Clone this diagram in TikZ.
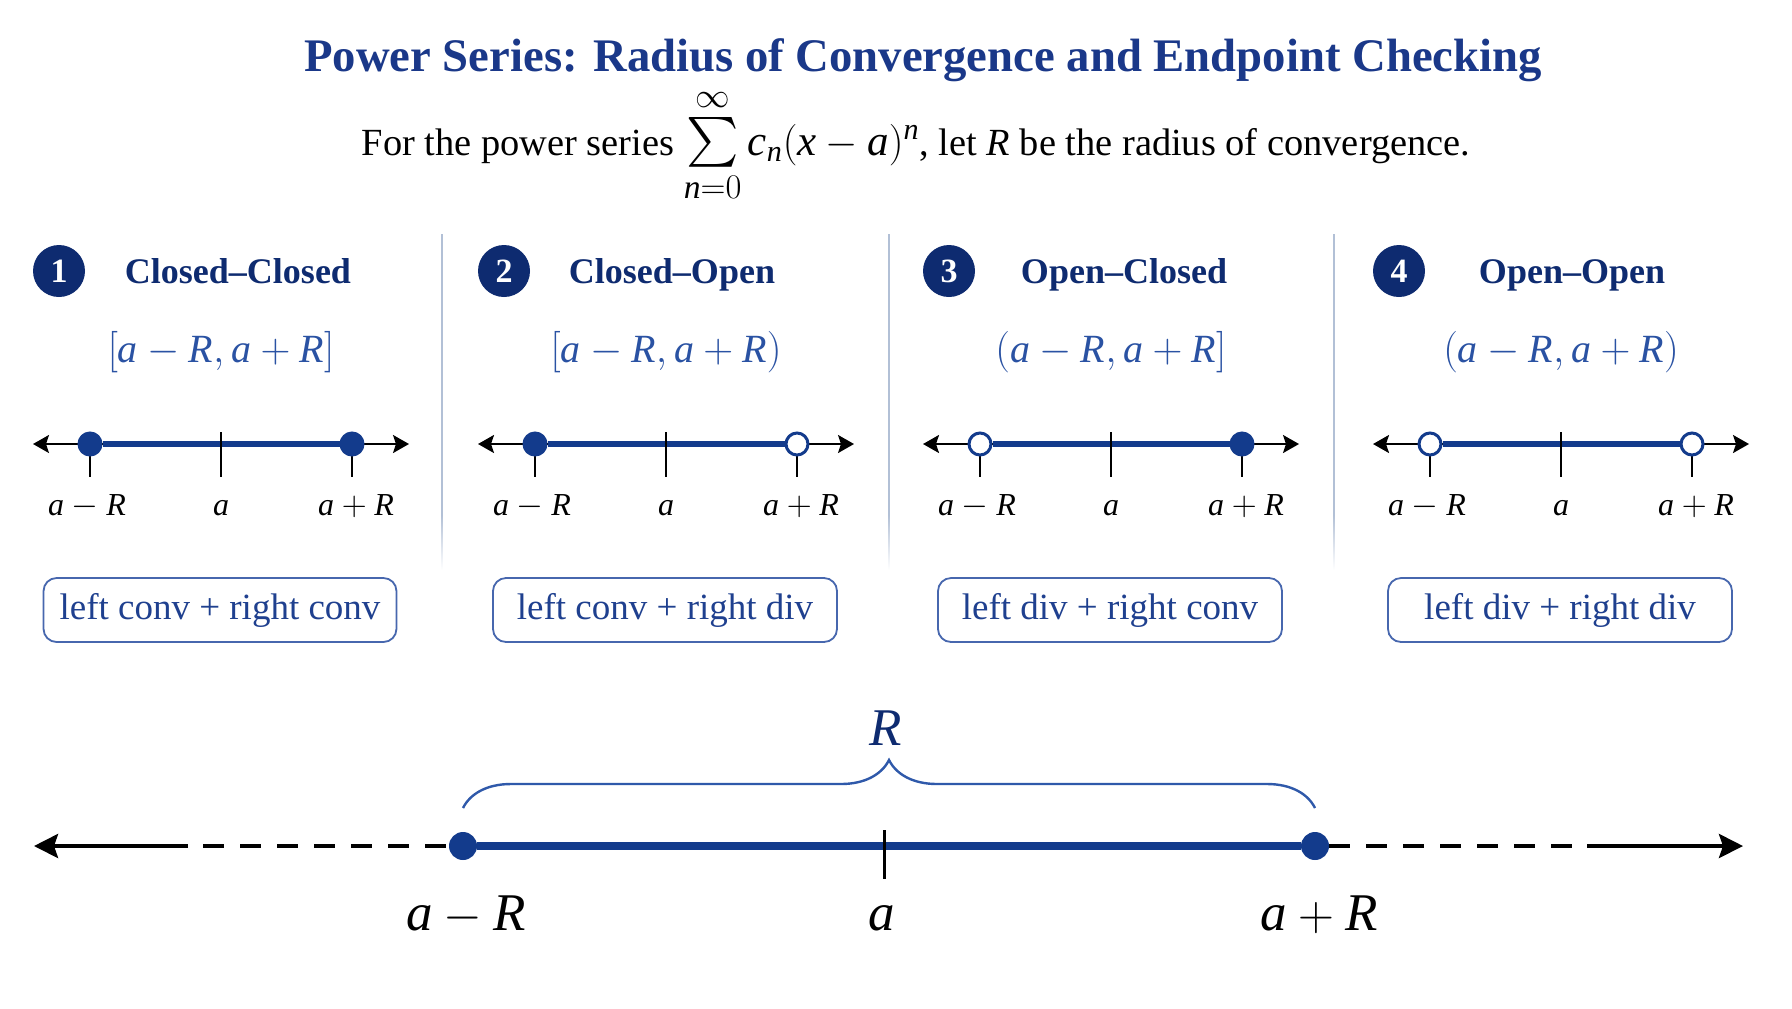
\documentclass[tikz,border=0pt]{standalone}
\usepackage{amsmath}
\usepackage{fontspec}
\setmainfont{Liberation Serif}
\usetikzlibrary{calc, arrows.meta, decorations.pathreplacing}

\definecolor{titleblue}{HTML}{1A3889}
\definecolor{navy}{HTML}{0E2B70}
\definecolor{lineblue}{HTML}{133B8C}
\definecolor{intblue}{HTML}{2A52A3}
\definecolor{boxblue}{HTML}{1F408F}
\definecolor{boxedge}{HTML}{4767AE}
\definecolor{braceblue}{HTML}{2F59AA}
\definecolor{divgray}{HTML}{B2C0D6}

\newcommand{\mv}[1]{\textit{#1}}

\begin{document}
\begin{tikzpicture}[x=0.5pt, y=-0.5pt,
  smalltip/.tip={Stealth[length=8pt, width=9pt, inset=1.5pt]},
  bigtip/.tip={Stealth[length=12pt, width=12pt, inset=2pt]},
  axis/.style={line width=1pt, smalltip-smalltip},
  seg/.style={line width=2.8pt, lineblue},
  tickmark/.style={line width=1pt},
  dotclosed/.style={circle, fill=lineblue, draw=lineblue, line width=1pt,
    minimum size=11.5pt, inner sep=0pt},
  dotopen/.style={circle, fill=white, draw=lineblue, line width=1.5pt,
    minimum size=11pt, inner sep=0pt},
  badge/.style={circle, fill=navy, text=white, minimum size=26pt, inner sep=0pt,
    font=\fontsize{17}{20}\selectfont\bfseries},
  heading/.style={text=navy, anchor=base, font=\fontsize{18}{21}\selectfont\bfseries},
  interval/.style={text=intblue, anchor=base, font=\fontsize{20}{24}\selectfont},
  ticklabel/.style={anchor=base, font=\fontsize{16}{19}\selectfont},
  verdict/.style={draw=boxedge, line width=0.9pt, rounded corners=6.5pt, text=boxblue,
    minimum width=172pt, minimum height=32pt, inner xsep=8pt,
    font=\fontsize{18.5}{22}\selectfont},
  bigaxis/.style={line width=2pt},
  dashes/.style={bigaxis, dash pattern=on 10.5pt off 8pt},
  bigseg/.style={line width=3.6pt, lineblue},
  bigdot/.style={circle, fill=lineblue, minimum size=14pt, inner sep=0pt},
  biglabel/.style={anchor=base, font=\fontsize{26.5}{31}\selectfont},
]
  \useasboundingbox[fill=white] (0,0) rectangle (1792,1008);

  % title and subtitle
  \node[anchor=base, inner sep=0pt, text=titleblue, font=\fontsize{23.35}{28}\selectfont\bfseries] (title)
    at (923,71) {Power Series: Radius of Convergence and Endpoint Checking};
  \node[anchor=base, inner sep=0pt, font=\fontsize{19.2}{23}\selectfont] (intro) at (916,155)
    {For the power series\ {\fontsize{24}{28}\selectfont$\sum\limits_{\mv{n}=0}^{\infty}$}\,%
     {\fontsize{21.5}{25}\selectfont$\mv{c}_{\mv{n}}(\mv{x}-\mv{a})^{\mv{n}}$},
     let \mv{R} be the radius of convergence.};

  % dividers between the four cases
  \foreach \dx in {442, 889, 1334} {
    \fill[divgray] (\dx-0.9,234) rectangle (\dx+0.9,515);
    \shade[top color=divgray, bottom color=white] (\dx-0.9,515) rectangle (\dx+0.9,570);
  }

  % the four endpoint cases
  \foreach \c/\hx/\k/\ttl/\intv/\lf/\rf/\txt in {
      221/238/1/Closed\textendash Closed/{[\mv{a}-\mv{R}, \mv{a}+\mv{R}]}/dotclosed/dotclosed/left conv + right conv,
      666/672/2/Closed\textendash Open/{[\mv{a}-\mv{R}, \mv{a}+\mv{R})}/dotclosed/dotopen/left conv + right div,
      1111/1124/3/Open\textendash Closed/{(\mv{a}-\mv{R}, \mv{a}+\mv{R}]}/dotopen/dotclosed/left div + right conv,
      1561/1572/4/Open\textendash Open/{(\mv{a}-\mv{R}, \mv{a}+\mv{R})}/dotopen/dotopen/left div + right div} {
    \node[badge] (num\k) at (\c-162,271) {\k};
    \node[heading] (head\k) at (\hx,283) {\ttl};
    \node[interval] (int\k) at (\c,362) {$\intv$};
    \coordinate (A\k) at (\c-188,444);
    \coordinate (B\k) at (\c+188,444);
    \draw[axis] (A\k) -- (B\k);
    \draw[tickmark] (\c-131,444) -- (\c-131,477);
    \draw[tickmark] (\c+131,444) -- (\c+131,477);
    \node[\lf] (L\k) at (\c-131,444) {};
    \node[\rf] (R\k) at (\c+131,444) {};
    \draw[seg] (L\k) -- (R\k);
    \draw[tickmark] (\c,432) -- (\c,477);
    \node[ticklabel] (lo\k) at (\c-134,515) {$\mv{a}-\mv{R}$};
    \node[ticklabel] (mid\k) at (\c,515) {$\mv{a}$};
    \node[ticklabel] (hi\k) at (\c+135,515) {$\mv{a}+\mv{R}$};
    \node[verdict] (box\k) at (\c-1,610) {\txt};
  }

  % the big number line
  \coordinate (EL) at (34,846);
  \coordinate (SL) at (188,846);
  \coordinate (DL) at (203,846);
  \coordinate (DR) at (1572,846);
  \coordinate (SR) at (1587,846);
  \coordinate (ER) at (1743,846);
  \node[bigdot] (PL) at (463,846) {};
  \node[bigdot] (PR) at (1315,846) {};
  \draw[bigaxis, -bigtip] (SL) -- (EL);
  \draw[dashes] (DL) -- (PL);
  \draw[dashes] (PR) -- (DR);
  \draw[bigaxis, -bigtip] (SR) -- (ER);
  \draw[bigseg] (PL) -- (PR);
  \draw[line width=1.5pt] (884,830) -- (884,879);
  \node[biglabel] (lo) at (466,930) {$\mv{a}-\mv{R}$};
  \node[biglabel] (mid) at (882,930) {$\mv{a}$};
  \node[biglabel] (hi) at (1319,930) {$\mv{a}+\mv{R}$};

  % brace for the radius
  \coordinate (BL) at (463,808);
  \coordinate (BR) at (1315,808);
  \draw[braceblue, line width=1.2pt, decorate, decoration={brace, amplitude=24pt}] (BL) -- (BR);
  \node[biglabel, text=navy] (rad) at (886,745) {$\mv{R}$};
\end{tikzpicture}
\end{document}
